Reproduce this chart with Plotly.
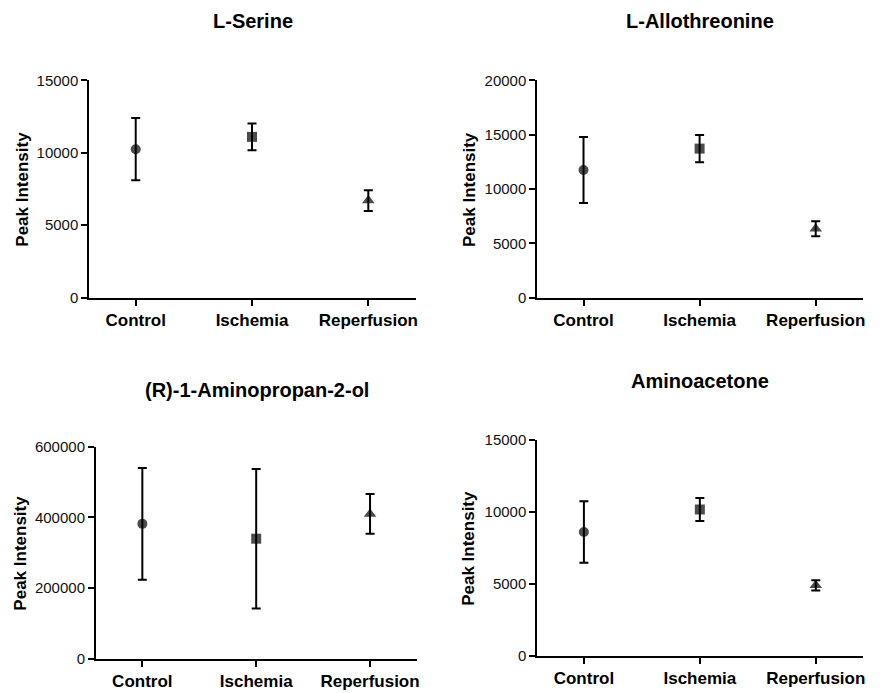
import plotly.graph_objects as go

categories = ["Control", "Ischemia", "Reperfusion"]
titles = ["L-Serine", "L-Allothreonine", "(R)-1-Aminopropan-2-ol", "Aminoacetone"]

serine_mean = [10250, 11100, 6700]
serine_err = [2150, 930, 720]
allo_mean = [11750, 13720, 6350]
allo_err = [3030, 1260, 690]
aminoprop_mean = [382000, 340000, 410000]
aminoprop_err = [158000, 197000, 56000]
acetone_mean = [8600, 10160, 4900]
acetone_err = [2140, 800, 360]

y_max = [15000, 20000, 600000, 15000]
y_dtick = [5000, 5000, 200000, 5000]

means = [serine_mean, allo_mean, aminoprop_mean, acetone_mean]
errs = [serine_err, allo_err, aminoprop_err, acetone_err]

W, H = 889, 693
# pixel layout of each panel: (x_left, x_right, y_top, y_bottom)
panels_px = [
    (89.3, 416.0, 80.4, 297.6),
    (537.3, 863.3, 80.4, 297.6),
    (96.0, 417.3, 446.7, 659.0),
    (537.3, 863.3, 439.7, 656.0),
]
x_ranges = [[-0.399, 2.41], [-0.398, 2.41], [-0.407, 2.415], [-0.402, 2.41]]
title_y_px = [21, 21, 390, 381]
ytitle_x_px = [21.7, 469, 20.8, 469]

symbols = ["circle", "square", "triangle-up"]
FONT = "Liberation Sans, Arial, sans-serif"

fig = go.Figure()
annotations = []
for i in range(4):
    xl, xr, yt, yb = panels_px[i]
    xa = "x" if i == 0 else f"x{i+1}"
    ya = "y" if i == 0 else f"y{i+1}"
    fig.add_trace(go.Scatter(
        x=list(range(len(categories))), y=means[i],
        mode="markers",
        marker=dict(symbol=symbols, size=[10, 10, 11], color="black",
                    line=dict(width=0)),
        error_y=dict(type="data", array=errs[i], visible=True,
                     color="black", thickness=2, width=4.5),
        xaxis=xa, yaxis=ya, showlegend=False, cliponaxis=False,
    ))
    xkey = "xaxis" if i == 0 else f"xaxis{i+1}"
    ykey = "yaxis" if i == 0 else f"yaxis{i+1}"
    fig.update_layout(**{
        xkey: dict(
            domain=[xl / W, xr / W], anchor=ya, range=x_ranges[i],
            tickvals=list(range(len(categories))), ticktext=categories,
            showline=True, linecolor="black", linewidth=2,
            ticks="outside", ticklen=6, tickwidth=2, tickcolor="black",
            showgrid=False, zeroline=False, automargin=False,
            tickfont=dict(family=FONT, size=17, color="black", weight="bold"),
        ),
        ykey: dict(
            domain=[1 - yb / H, 1 - yt / H], anchor=xa, range=[0, y_max[i]],
            dtick=y_dtick[i], tick0=0, tickformat="d",
            showline=True, linecolor="black", linewidth=2,
            ticks="outside", ticklen=6, tickwidth=2, tickcolor="black",
            showgrid=False, zeroline=False, automargin=False,
            tickfont=dict(family=FONT, size=15, color="#111"),
        ),
    })
    annotations.append(dict(
        text=titles[i], xref="paper", yref="paper",
        x=(xl + xr) / 2 / W, y=1 - title_y_px[i] / H,
        xanchor="center", yanchor="middle", showarrow=False,
        font=dict(family=FONT, size=20, color="black", weight="bold"),
    ))
    annotations.append(dict(
        text="Peak Intensity", xref="paper", yref="paper",
        x=ytitle_x_px[i] / W, y=1 - (yt + yb) / 2 / H, textangle=-90,
        xanchor="center", yanchor="middle", showarrow=False,
        font=dict(family=FONT, size=17, color="black", weight="bold"),
    ))

fig.update_layout(
    width=W, height=H,
    margin=dict(l=0, r=0, t=0, b=0, autoexpand=False),
    paper_bgcolor="white", plot_bgcolor="white",
    annotations=annotations,
)

fig.write_html("out.html")
